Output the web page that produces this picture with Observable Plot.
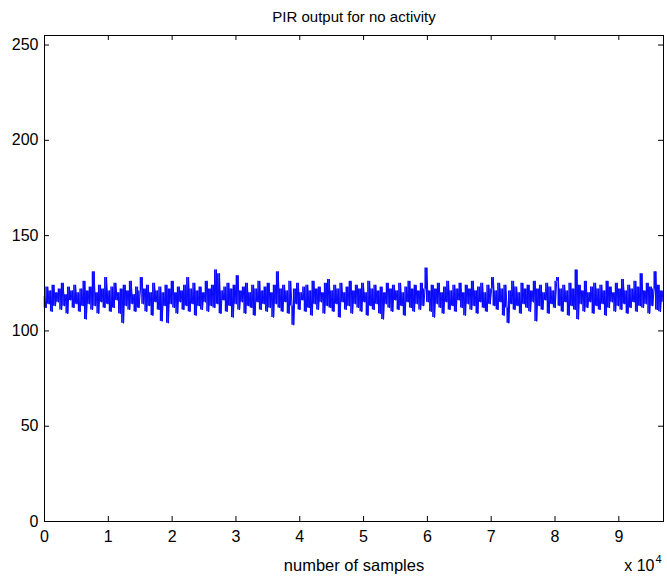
<!DOCTYPE html>
<html><head><meta charset="utf-8">
<script src="https://cdn.jsdelivr.net/npm/d3@7"></script>
<script src="https://cdn.jsdelivr.net/npm/@observablehq/plot@0.6"></script>
<style>body{margin:0;background:#fff}</style>
</head><body><div id="chart"></div>
<script>
const title = "PIR output for no activity";
const xLabel = "number of samples";
const xExponentBase = "x 10";
const xExponent = "4";
const xMax = 97000;
const yMax = 255;
const sampleStep = 242.5;
const xTicks = [0, 10000, 20000, 30000, 40000, 50000, 60000, 70000, 80000, 90000];
const xTickLabels = ["0", "1", "2", "3", "4", "5", "6", "7", "8", "9"];
const yTicks = [0, 50, 100, 150, 200, 250];
const pirValues = [
118,112,123,114,121,110,124,113,120,115,
122,111,125,113,119,109,123,116,121,112,
124,114,120,110,122,113,126,106,121,114,
123,111,131,113,120,109,124,115,122,112,
128,114,121,110,123,112,125,116,120,109,
122,104,124,113,121,111,126,114,119,110,
123,112,121,128,114,122,110,124,113,120,
108,125,115,121,111,123,105,120,113,124,
104,122,114,126,112,120,109,123,115,121,
111,124,113,128,110,122,114,125,108,121,
113,123,111,120,115,126,110,122,113,124,
112,132,114,130,109,121,116,123,110,125,
113,122,107,124,114,129,111,121,115,123,
109,125,113,120,112,124,108,122,115,126,
111,121,114,123,110,125,112,120,107,124,
114,131,112,122,110,124,115,121,109,126,
113,103,122,114,125,111,120,116,123,110,
124,112,121,108,126,114,122,111,123,115,
120,109,125,113,127,112,121,110,124,114,
122,107,125,115,120,111,123,113,126,109,
121,114,124,112,122,110,125,115,120,108,
126,113,122,111,124,114,121,109,123,106,
120,114,125,112,122,110,124,116,121,111,
125,113,120,108,123,115,126,112,122,110,
124,114,121,111,125,113,122,133,115,121,
110,124,107,122,114,125,112,120,109,123,
115,126,111,121,113,124,110,122,116,125,
112,120,108,124,114,122,111,126,113,121,
109,123,115,125,112,120,110,124,114,122,
128,113,121,111,125,115,122,108,124,112,
104,121,114,126,111,123,113,120,109,125,
114,122,112,124,110,121,115,126,105,122,
113,124,111,120,116,125,109,123,114,121,
112,126,128,113,122,110,124,115,121,108,
125,113,122,111,132,106,124,114,121,110,
126,112,120,115,123,109,125,113,122,111,
124,114,121,108,126,112,123,115,120,110,
125,113,122,111,127,114,121,109,124,112,
122,115,126,110,123,113,130,112,121,114,
125,109,123,113,122,131,111,124,110,121,
115
];

const data = pirValues.map((v, i) => ({sample: i * sampleStep, value: v}));
// vertical strokes between consecutive samples (MATLAB-like dense trace)
const strokes = data.slice(0, -1).map((d, i) => ({sample: d.sample, a: d.value, b: data[i + 1].value}));
const tickLenY = 2.6;   // in value units (~5px)
const tickLenX = 780;   // in sample units (~5px)

const chart = Plot.plot({
  width: 667,
  height: 582,
  marginLeft: 44,
  marginRight: 4,
  marginTop: 35,
  marginBottom: 61,
  style: {fontFamily: "'Liberation Sans', Arial, sans-serif", fontSize: "16px", background: "#fff", color: "#000"},
  x: {domain: [0, xMax]},
  y: {domain: [0, yMax]},
  marks: [
    Plot.ruleX(strokes, {x: "sample", y1: "a", y2: "b", stroke: "#0a0aff", strokeWidth: 1.5}),
    Plot.line(data, {x: "sample", y: "value", stroke: "#0a0aff", strokeWidth: 1}),
    Plot.frame({stroke: "#000", strokeWidth: 1}),
    Plot.ruleX(xTicks, {x: d => d, y1: 0, y2: tickLenY, stroke: "#000"}),
    Plot.ruleX(xTicks, {x: d => d, y1: yMax - tickLenY, y2: yMax, stroke: "#000"}),
    Plot.ruleY(yTicks, {y: d => d, x1: 0, x2: tickLenX, stroke: "#000"}),
    Plot.ruleY(yTicks, {y: d => d, x1: xMax - tickLenX, x2: xMax, stroke: "#000"}),
    Plot.axisX({ticks: xTicks, tickSize: 0, tickPadding: 9, label: null,
      tickFormat: d => xTickLabels[xTicks.indexOf(d)], fontSize: 16}),
    Plot.axisY({ticks: yTicks, tickSize: 0, tickPadding: 6, label: null, fontSize: 16}),
    Plot.text([title], {frameAnchor: "top", dy: -24, fontSize: 15}),
    Plot.text([xLabel], {frameAnchor: "bottom", dy: 49, fontSize: 16.5}),
    Plot.text([xExponentBase], {frameAnchor: "bottom-right", textAnchor: "end", dx: -9, dy: 49, fontSize: 16}),
    Plot.text([xExponent], {frameAnchor: "bottom-right", textAnchor: "start", dx: -8, dy: 41, fontSize: 11})
  ]
});
document.getElementById("chart").append(chart);
</script>
</body></html>
